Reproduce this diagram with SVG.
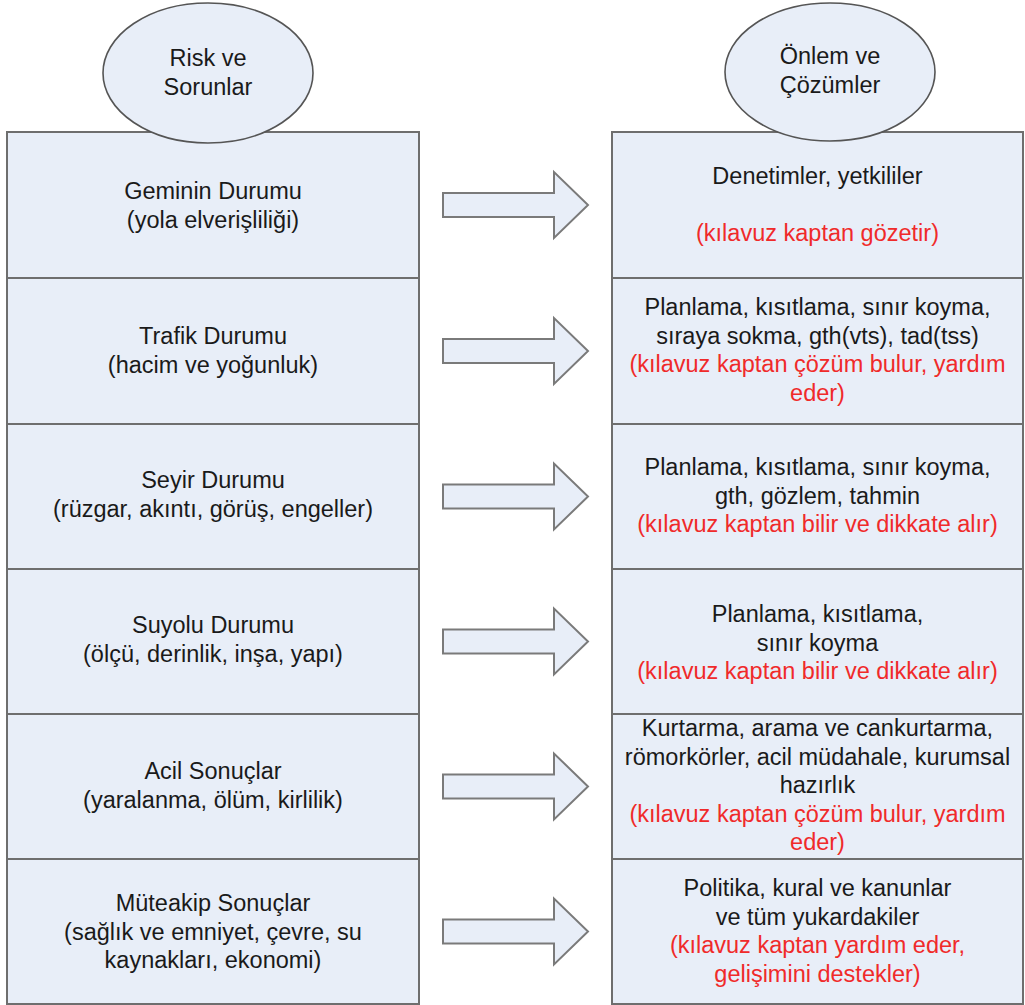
<svg xmlns="http://www.w3.org/2000/svg" width="1025" height="1005" viewBox="0 0 1025 1005">
<style>
.box{fill:#e8eef8;stroke:#6e6e6e;stroke-width:2}
.ell{fill:#e8eef8;stroke:#555;stroke-width:1.6}
.arr{fill:#e8eef8;stroke:#7a7a7a;stroke-width:2;stroke-linejoin:miter}
text{font-family:"Liberation Sans",Arial,sans-serif;font-size:23.5px;fill:#1a1a1a;text-anchor:middle}
.r{fill:#f02a2a}
</style>
<rect width="1025" height="1005" fill="#fff"/>
<g id="left-1"><rect class="box" x="7" y="132" width="412" height="146"/><text x="213" y="199">Geminin Durumu</text><text x="213" y="227.5">(yola elverişliliği)</text></g>
<g id="left-2"><rect class="box" x="7" y="278" width="412" height="146"/><text x="213" y="344">Trafik Durumu</text><text x="213" y="372.5">(hacim ve yoğunluk)</text></g>
<g id="left-3"><rect class="box" x="7" y="424" width="412" height="145"/><text x="213" y="488">Seyir Durumu</text><text x="213" y="516.5">(rüzgar, akıntı, görüş, engeller)</text></g>
<g id="left-4"><rect class="box" x="7" y="569" width="412" height="145"/><text x="213" y="633">Suyolu Durumu</text><text x="213" y="661.5">(ölçü, derinlik, inşa, yapı)</text></g>
<g id="left-5"><rect class="box" x="7" y="714" width="412" height="145"/><text x="213" y="779">Acil Sonuçlar</text><text x="213" y="807.5">(yaralanma, ölüm, kirlilik)</text></g>
<g id="left-6"><rect class="box" x="7" y="859" width="412" height="145"/><text x="213" y="911">Müteakip Sonuçlar</text><text x="213" y="939.5">(sağlık ve emniyet, çevre, su</text><text x="213" y="968">kaynakları, ekonomi)</text></g>
<g id="right-1"><rect class="box" x="612" y="132" width="411" height="146"/><text x="817.5" y="184">Denetimler, yetkililer</text><text class="r" x="817.5" y="241">(kılavuz kaptan gözetir)</text></g>
<g id="right-2"><rect class="box" x="612" y="278" width="411" height="146"/><text x="817.5" y="315">Planlama, kısıtlama, sınır koyma,</text><text x="817.5" y="343.5">sıraya sokma, gth(vts), tad(tss)</text><text class="r" x="817.5" y="372">(kılavuz kaptan çözüm bulur, yardım</text><text class="r" x="817.5" y="400.5">eder)</text></g>
<g id="right-3"><rect class="box" x="612" y="424" width="411" height="145"/><text x="817.5" y="475">Planlama, kısıtlama, sınır koyma,</text><text x="817.5" y="503.5">gth, gözlem, tahmin</text><text class="r" x="817.5" y="532">(kılavuz kaptan bilir ve dikkate alır)</text></g>
<g id="right-4"><rect class="box" x="612" y="569" width="411" height="145"/><text x="817.5" y="622">Planlama, kısıtlama,</text><text x="817.5" y="650.5">sınır koyma</text><text class="r" x="817.5" y="679">(kılavuz kaptan bilir ve dikkate alır)</text></g>
<g id="right-5"><rect class="box" x="612" y="714" width="411" height="145"/><text x="817.5" y="736">Kurtarma, arama ve cankurtarma,</text><text x="817.5" y="764.5">römorkörler, acil müdahale, kurumsal</text><text x="817.5" y="793">hazırlık</text><text class="r" x="817.5" y="821.5">(kılavuz kaptan çözüm bulur, yardım</text><text class="r" x="817.5" y="850">eder)</text></g>
<g id="right-6"><rect class="box" x="612" y="859" width="411" height="145"/><text x="817.5" y="896">Politika, kural ve kanunlar</text><text x="817.5" y="924.5">ve tüm yukardakiler</text><text class="r" x="817.5" y="953">(kılavuz kaptan yardım eder,</text><text class="r" x="817.5" y="981.5">gelişimini destekler)</text></g>
<g id="header-left"><ellipse class="ell" cx="208" cy="73" rx="105" ry="70"/><text x="208" y="66">Risk ve</text><text x="208" y="94.5">Sorunlar</text></g>
<g id="header-right"><ellipse class="ell" cx="830" cy="72" rx="105" ry="69"/><text x="830" y="64">Önlem ve</text><text x="830" y="92.5">Çözümler</text></g>
<g id="connectors">
<polygon class="arr" points="443,193 554,193 554,172 588,205 554,238 554,217 443,217"/>
<polygon class="arr" points="443,339 554,339 554,318 588,351 554,384 554,363 443,363"/>
<polygon class="arr" points="443,484.5 554,484.5 554,463.5 588,496.5 554,529.5 554,508.5 443,508.5"/>
<polygon class="arr" points="443,629.5 554,629.5 554,608.5 588,641.5 554,674.5 554,653.5 443,653.5"/>
<polygon class="arr" points="443,774.5 554,774.5 554,753.5 588,786.5 554,819.5 554,798.5 443,798.5"/>
<polygon class="arr" points="443,919.5 554,919.5 554,898.5 588,931.5 554,964.5 554,943.5 443,943.5"/>
</g>
</svg>
